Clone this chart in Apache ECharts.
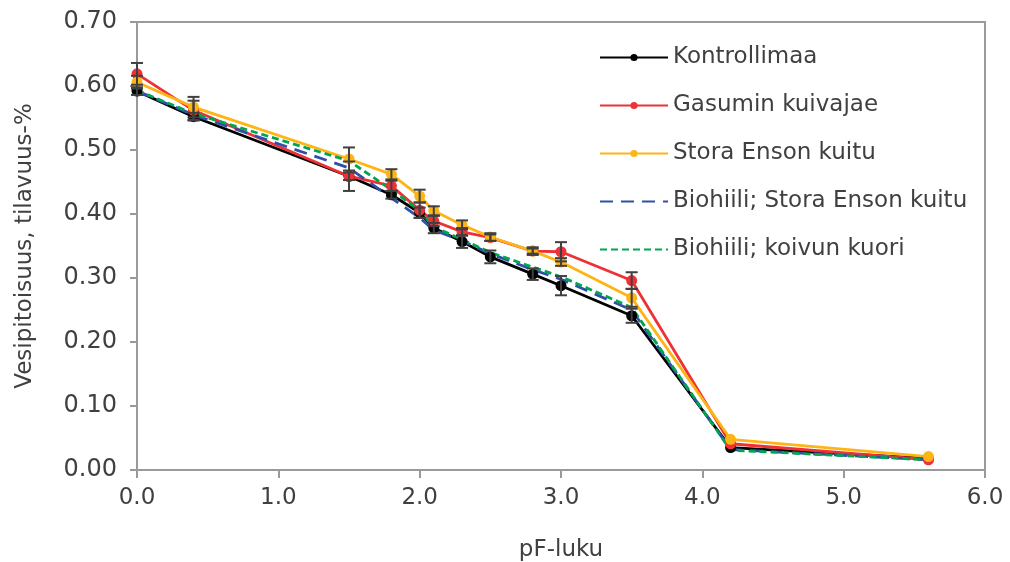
<!DOCTYPE html>
<html>
<head>
<meta charset="utf-8">
<script src="https://cdn.jsdelivr.net/npm/echarts@6/dist/echarts.min.js"></script>
<style>html,body{margin:0;padding:0;background:#fff;}#c{width:1010px;height:562px;}</style>
</head>
<body>
<div id="c"></div>
<script>
var pF = [0, 0.4, 1.5, 1.8, 2.0, 2.1, 2.3, 2.5, 2.8, 3.0, 3.5, 4.2, 5.6];
var seriesNames = ['Kontrollimaa', 'Gasumin kuivajae', 'Stora Enson kuitu', 'Biohiili; Stora Enson kuitu', 'Biohiili; koivun kuori'];
var kontrolli = [0.592, 0.552, 0.459, 0.430, 0.402, 0.378, 0.357, 0.333, 0.306, 0.288, 0.241, 0.035, 0.018];
var gasum     = [0.619, 0.562, 0.459, 0.444, 0.406, 0.389, 0.372, 0.363, 0.342, 0.341, 0.296, 0.041, 0.016];
var stora     = [0.606, 0.567, 0.486, 0.462, 0.428, 0.405, 0.383, 0.364, 0.342, 0.325, 0.269, 0.048, 0.021];
var bioSE     = [0.592, 0.555, 0.472, 0.425, 0.394, 0.375, 0.358, 0.338, 0.313, 0.298, 0.250, 0.032, 0.016];
var bioKoivu  = [0.593, 0.557, 0.483, 0.438, 0.405, 0.380, 0.360, 0.340, 0.317, 0.302, 0.254, 0.031, 0.016];
var errKontrolli = [0.006, 0.006, 0.006, 0.006, 0.008, 0.008, 0.010, 0.010, 0.009, 0.015, 0.011, 0, 0];
var errGasum     = [0.017, 0.015, 0.023, 0.008, 0.012, 0.008, 0.006, 0.005, 0.004, 0.015, 0.013, 0, 0];
var errStora     = [0.010, 0.016, 0.018, 0.008, 0.010, 0.007, 0.007, 0.006, 0.006, 0.006, 0.014, 0, 0];

var textColor = '#404040';
var axisColor = '#9a9a9a';
var fontFam = 'DejaVu Sans';

function pairs(vals) { return pF.map(function (x, i) { return [x, vals[i]]; }); }
function errData(vals, errs) { return pF.map(function (x, i) { return [x, vals[i] - errs[i], vals[i] + errs[i]]; }); }

function errRender(params, api) {
  var x = api.value(0);
  if (api.value(2) - api.value(1) <= 0) return null;
  var lo = api.coord([x, api.value(1)]);
  var hi = api.coord([x, api.value(2)]);
  var hw = 6;
  var st = { stroke: '#404040', lineWidth: 2 };
  return {
    type: 'group',
    children: [
      { type: 'line', shape: { x1: lo[0], y1: lo[1], x2: hi[0], y2: hi[1] }, style: st },
      { type: 'line', shape: { x1: lo[0] - hw, y1: lo[1], x2: lo[0] + hw, y2: lo[1] }, style: st },
      { type: 'line', shape: { x1: hi[0] - hw, y1: hi[1], x2: hi[0] + hw, y2: hi[1] }, style: st }
    ]
  };
}

function errSeries(vals, errs) {
  return { type: 'custom', renderItem: errRender, data: errData(vals, errs), z: 3, silent: true, encode: { x: 0, y: [1, 2] } };
}

function lineSeries(name, vals, color, dash, marker) {
  return {
    name: name, type: 'line', data: pairs(vals), z: 2,
    symbol: marker ? 'circle' : 'none', symbolSize: 11, showSymbol: marker,
    lineStyle: { color: color, width: 2.8, type: dash || 'solid' },
    itemStyle: { color: color },
    animation: false
  };
}

var chart = echarts.init(document.getElementById('c'));
chart.setOption({
  animation: false,
  backgroundColor: '#fff',
  grid: { left: 137, right: 25, top: 22, bottom: 92, show: true, borderColor: axisColor, borderWidth: 2, containLabel: false, outerBoundsMode: 'none' },
  legend: {
    orient: 'vertical', left: 594, top: 41,
    itemWidth: 68, itemHeight: 9, itemGap: 25,
    textStyle: { fontFamily: fontFam, fontSize: 23, color: textColor },
    data: [
      { name: seriesNames[0] },
      { name: seriesNames[1] },
      { name: seriesNames[2] },
      { name: seriesNames[3], itemStyle: { color: 'rgba(0,0,0,0)', borderWidth: 0 } },
      { name: seriesNames[4], itemStyle: { color: 'rgba(0,0,0,0)', borderWidth: 0 } }
    ]
  },
  xAxis: {
    type: 'value', min: 0, max: 6, interval: 1,
    name: 'pF-luku', nameLocation: 'middle', nameGap: 69,
    nameTextStyle: { fontFamily: fontFam, fontSize: 23, color: textColor },
    axisLine: { show: true, lineStyle: { color: axisColor, width: 2 } },
    axisTick: { show: true, length: 8, lineStyle: { color: axisColor, width: 2 } },
    axisLabel: { margin: 17, fontFamily: fontFam, fontSize: 23, color: textColor, formatter: function (v) { return v.toFixed(1); } },
    splitLine: { show: false }
  },
  yAxis: {
    type: 'value', min: 0, max: 0.7, interval: 0.1,
    name: 'Vesipitoisuus, tilavuus-%', nameLocation: 'middle', nameGap: 100,
    nameTextStyle: { fontFamily: fontFam, fontSize: 23, color: textColor },
    axisLine: { show: true, lineStyle: { color: axisColor, width: 2 } },
    axisTick: { show: true, length: 7, lineStyle: { color: axisColor, width: 2 } },
    axisLabel: { margin: 20, fontFamily: fontFam, fontSize: 24, color: textColor, formatter: function (v) { return v.toFixed(2); } },
    splitLine: { show: false }
  },
  series: [
    lineSeries(seriesNames[0], kontrolli, '#000000', null, true),
    lineSeries(seriesNames[1], gasum, '#EE3134', null, true),
    lineSeries(seriesNames[2], stora, '#FDB515', null, true),
    lineSeries(seriesNames[3], bioSE, '#3050A8', [13, 8], false),
    lineSeries(seriesNames[4], bioKoivu, '#00A551', [7, 4], false),
    errSeries(kontrolli, errKontrolli),
    errSeries(gasum, errGasum),
    errSeries(stora, errStora)
  ]
});
</script>
</body>
</html>
